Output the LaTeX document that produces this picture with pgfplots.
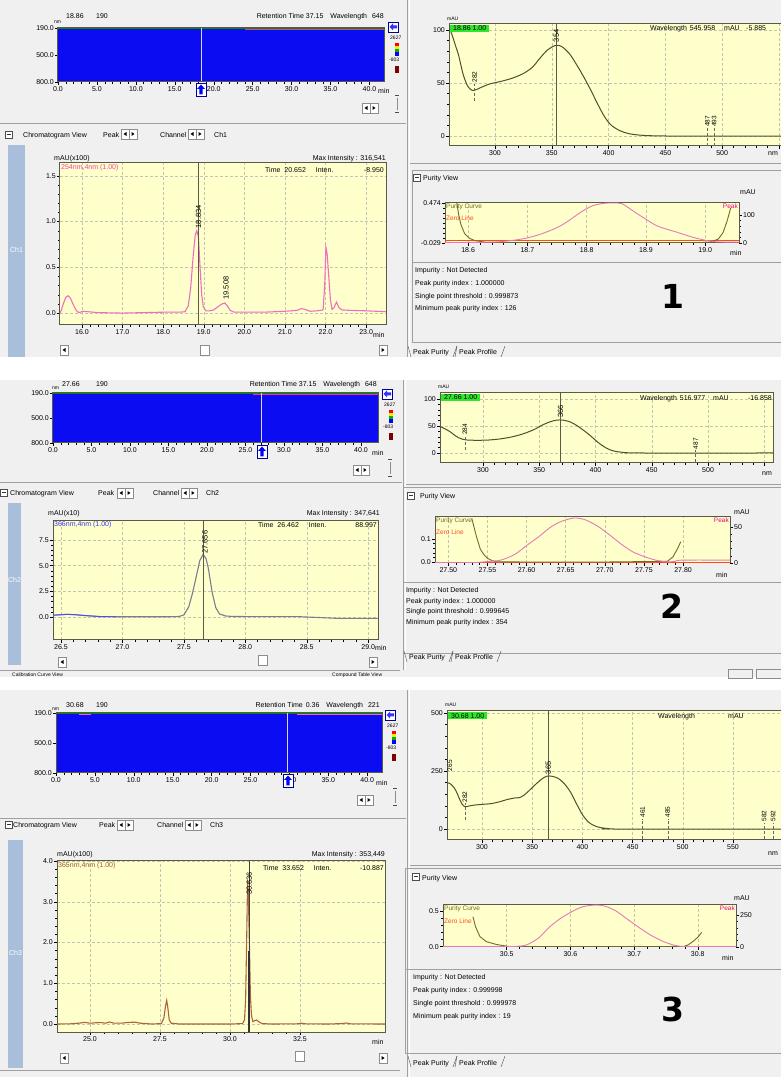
\documentclass[border=0pt]{standalone}
\usepackage{fontspec}
\setmainfont{Liberation Sans}
\newfontfamily\bigf{DejaVu Sans}
\usepackage{pgfplots}
\pgfplotsset{compat=1.18}

\definecolor{bgc}{HTML}{F0F0F0}
\definecolor{plotbg}{HTML}{FFFFCC}
\definecolor{frame}{HTML}{5A5A48}
\definecolor{gridc}{HTML}{C4C4B0}
\definecolor{cblue}{HTML}{0C0CF2}
\definecolor{ch1c}{HTML}{F06EC2}
\definecolor{ch2c}{HTML}{7C7C8C}
\definecolor{ch3c}{HTML}{A8643A}
\definecolor{specc}{HTML}{50502E}
\definecolor{purc}{HTML}{6E6E22}
\definecolor{zeroc}{HTML}{FF4A1E}
\definecolor{peakc}{HTML}{E678B8}
\definecolor{stripc}{HTML}{A8BEDA}
\definecolor{greenb}{HTML}{2EE62E}
\definecolor{btnc}{HTML}{8C8C8C}
\definecolor{sepc}{HTML}{A0A0A0}

\newcommand\ft{\fontsize{7}{8}\selectfont}
\newcommand\fts{\fontsize{5}{6}\selectfont}
\newcommand\ftl{\fontsize{7.5}{8}\selectfont}
\newcommand\ftp{\fontsize{6.5}{7}\selectfont}
\newcommand\ftbig{\bigf\bfseries\fontsize{33}{33}\selectfont}

\newcommand\tl[3]{\node[anchor=base west,inner sep=0pt,font=\ft] at (#1,{1077-(#2)}) {#3};}
\newcommand\tr[3]{\node[anchor=base east,inner sep=0pt,font=\ft] at (#1,{1077-(#2)}) {#3};}
\newcommand\tc[3]{\node[anchor=base,inner sep=0pt,font=\ft] at (#1,{1077-(#2)}) {#3};}
\newcommand\hl[4]{\draw[#1] (#2,{1077-(#4)}) -- (#3,{1077-(#4)});}
\newcommand\vl[4]{\draw[#1] (#2,{1077-(#3)}) -- (#2,{1077-(#4)});}
\newcommand\rect[5]{\draw[#1] (#2,{1077-(#3)}) rectangle (#4,{1077-(#5)});}
\newcommand\lbtn[2]{\draw[btnc,fill=white,line width=0.4pt] (#1,{1077-(#2)}) rectangle ({#1+8},{1077-(#2)-10});
  \fill ({#1+5.5},{1077-(#2)-3}) -- ({#1+5.5},{1077-(#2)-7}) -- ({#1+2.5},{1077-(#2)-5}) -- cycle;}
\newcommand\rbtn[2]{\draw[btnc,fill=white,line width=0.4pt] (#1,{1077-(#2)}) rectangle ({#1+8},{1077-(#2)-10});
  \fill ({#1+2.5},{1077-(#2)-3}) -- ({#1+2.5},{1077-(#2)-7}) -- ({#1+5.5},{1077-(#2)-5}) -- cycle;}
\newcommand\btns[2]{\lbtn{#1}{#2}\rbtn{#1+8}{#2}}
\newcommand\thumb[2]{\draw[btnc,fill=white,line width=0.4pt] (#1,{1077-(#2)}) rectangle ({#1+9},{1077-(#2)-10});}
\newcommand\vsb[2]{% small vertical scroll marks, x, y top
  \fill[black!70] (#1,{1077-(#2)-3}) rectangle ({#1+4},{1077-(#2)-4.2});
  \fill[black!70] (#1,{1077-(#2)-20}) rectangle ({#1+4},{1077-(#2)-21.2});
  \draw[btnc,line width=0.3pt] ({#1+2},{1077-(#2)-6}) -- ({#1+2},{1077-(#2)-18});}
\newcommand\icon[2]{\draw[black!70,fill=white,line width=0.4pt] (#1,{1077-(#2)}) rectangle ({#1+7},{1077-(#2)-7});
  \fill[black!80] ({#1+1.5},{1077-(#2)-3}) rectangle ({#1+5.5},{1077-(#2)-4.3});}
\newcommand\lgd[2]{%
 \draw[blue!60!black,fill=white,line width=0.5pt] (#1,{1077-(#2)}) rectangle ({#1+10},{1077-(#2)-10});
 \fill[blue!80] ({#1+1.5},{1077-(#2)-5}) -- ({#1+5},{1077-(#2)-1.5}) -- ({#1+5},{1077-(#2)-3.5}) -- ({#1+9},{1077-(#2)-3.5}) -- ({#1+9},{1077-(#2)-6.5}) -- ({#1+5},{1077-(#2)-6.5}) -- ({#1+5},{1077-(#2)-8.5}) -- cycle;
 \node[anchor=base west,inner sep=0pt,font=\fts] at ({#1+2},{1077-(#2)-18}) {2627};
 \fill[red] ({#1+7},{1077-(#2)-21}) rectangle ({#1+11},{1077-(#2)-24});
 \fill[yellow!90!orange] ({#1+7},{1077-(#2)-24}) rectangle ({#1+11},{1077-(#2)-27});
 \fill[green!70!black] ({#1+7},{1077-(#2)-27}) rectangle ({#1+11},{1077-(#2)-30});
 \fill[blue] ({#1+7},{1077-(#2)-30}) rectangle ({#1+11},{1077-(#2)-34});
 \node[anchor=base west,inner sep=0pt,font=\fts] at ({#1+1},{1077-(#2)-40}) {-803};
 \fill[red!50!black] ({#1+7},{1077-(#2)-44}) rectangle ({#1+11},{1077-(#2)-51});}
\newcommand\cur[2]{%
 \draw[blue!60!black,fill=white,line width=0.5pt] ({#1-5},{1077-(#2)}) rectangle ({#1+5},{1077-(#2)-13});
 \fill[blue] ({#1},{1077-(#2)-1.5}) -- ({#1+4},{1077-(#2)-6}) -- ({#1+1.7},{1077-(#2)-6}) -- ({#1+1.7},{1077-(#2)-11.5}) -- ({#1-1.7},{1077-(#2)-11.5}) -- ({#1-1.7},{1077-(#2)-6}) -- ({#1-4},{1077-(#2)-6}) -- cycle;}
\newcommand\tabs[2]{%
 \draw[black!70,line width=0.4pt] (#1,{1077-(#2)+9}) -- ({#1+3},{1077-(#2)-2});
 \node[anchor=base west,inner sep=0pt,font=\ft] at ({#1+5},{1077-(#2)}) {Peak Purity};
 \draw[black!70,line width=0.4pt] ({#1+45},{1077-(#2)-2}) -- ({#1+49},{1077-(#2)+9});
 \draw[black!70,line width=0.4pt] ({#1+49},{1077-(#2)+9}) -- ({#1+47},{1077-(#2)-2});
 \node[anchor=base west,inner sep=0pt,font=\ft] at ({#1+51},{1077-(#2)}) {Peak Profile};
 \draw[black!70,line width=0.4pt] ({#1+93},{1077-(#2)-2}) -- ({#1+97},{1077-(#2)+9});}

\tikzset{
 plab/.style={rotate=90, anchor=west, font=\ftp, inner sep=0.5pt},
 clab/.style={rotate=90, anchor=west, font=\ftl, inner sep=0.5pt},
}
\pgfplotsset{
 base/.style={scale only axis, anchor=south west,
   axis background/.style={fill=plotbg},
   axis line style={draw=frame, line width=1pt},
   tick style={black, line width=0.4pt},
   major tick length=3pt, minor tick length=1.6pt,
   tick align=outside, tick pos=left,
   tick label style={font=\ft, inner sep=1pt},
   grid=major, major grid style={densely dashed, gridc, line width=0.4pt}},
 cont/.style={base, axis on top, grid=none, xmin=0, ymin=190, ymax=800, y dir=reverse,
   xtick={0,5,...,40}, xticklabels={0.0,5.0,10.0,15.0,20.0,25.0,30.0,35.0,40.0},
   ytick={190,500,800}, yticklabels={190.0,500.0,800.0},
   minor x tick num=4, minor y tick num=4},
 spec/.style={base, minor x tick num=4, minor y tick num=4,
   xtick={300,350,400,450,500,550}, xticklabels={300,350,400,450,500,550}},
 axR/.style={scale only axis, anchor=south west, axis x line=none, axis y line*=right,
   axis line style={draw=frame, line width=1pt},
   tick style={black, line width=0.4pt},
   major tick length=3pt, minor tick length=1.6pt, tick align=outside,
   tick label style={font=\ft, inner sep=1pt}, minor y tick num=4},
}

\begin{document}
\begin{tikzpicture}[x=1pt,y=1pt]
\fill[white] (0,0) rectangle (781,1077);
\useasboundingbox (0,0) rectangle (781,1077);
\begin{scope}
\clip (0,0) rectangle (781,1077);
% panel backgrounds
\fill[bgc] (0,{1077-0}) rectangle (781,{1077-357});
\fill[bgc] (0,{1077-380}) rectangle (781,{1077-677});
\fill[bgc] (0,{1077-690}) rectangle (781,{1077-1077});

% ================= PANEL 1 =================
\vl{sepc,line width=0.8pt}{407}{0}{357}
\vl{white,line width=0.8pt}{409}{0}{357}
\hl{sepc,line width=0.8pt}{0}{406}{123}
\hl{sepc,line width=0.8pt}{410}{781}{163}

% contour header
\node[anchor=base west,inner sep=0pt,font=\fts] at (54,{1077-24}) {nm};
\tl{66}{19}{18.86}
\tl{96}{19}{190}
\tr{384}{19}{Retention Time 37.15\hspace{7pt}Wavelength\hspace{5pt}648}
\begin{axis}[cont, at={(58pt,995pt)}, width=327pt, height=54pt, xmax=42]
\addplot[fill=cblue, draw=none] coordinates {(0,190)(42,190)(42,800)(0,800)};
\addplot[green!55!black, line width=0.8pt] coordinates {(0,193)(42,193)};
\addplot[magenta!80, line width=1pt] coordinates {(24,203)(42,203)};
\addplot[white!70!gray, line width=1pt] coordinates {(18.4,190)(18.4,800)};
\end{axis}
\tl{378}{94}{min}
\lgd{388}{22}
\cur{201}{83}
\btns{362}{103}
\vsb{395}{92}

% chromatogram 1 header
\icon{5}{131}
\tl{23}{138}{Chromatogram View}
\tl{103}{138}{Peak}
\btns{121}{129}
\tl{160}{138}{Channel}
\btns{188}{129}
\tl{214}{138}{Ch1}
\fill[stripc] (8,{1077-145}) rectangle (25,{1077-357});
\node[white,font=\ft] at (16.5,{1077-250}) {Ch1};
\tl{54}{161}{mAU(x100)}
\tr{386}{161}{Max Intensity : 316,541}
\begin{axis}[base, at={(60pt,752pt)}, width=326pt, height=162pt,
  xmin=15.46, xmax=23.49, ymin=-0.13, ymax=1.64,
  xtick={16,17,...,23}, xticklabels={16.0,17.0,18.0,19.0,20.0,21.0,22.0,23.0},
  ytick={0,0.5,1,1.5}, yticklabels={0.0,0.5,1.0,1.5},
  minor x tick num=4, minor y tick num=4]
\addplot[ch1c, line width=1.1pt] coordinates {(15.46,0.0)(15.5,0.04)(15.54,0.1)(15.6,0.17)(15.66,0.19)(15.72,0.16)(15.79,0.09)(15.86,0.03)(15.92,0.005)(16.03,0.02)(16.15,0.015)(16.4,0.005)(17.0,0.0)(17.5,0.005)(18.0,0.01)(18.4,0.01)(18.54,0.015)(18.62,0.08)(18.68,0.28)(18.74,0.62)(18.79,0.85)(18.83,0.9)(18.87,0.83)(18.91,0.5)(18.95,0.2)(18.99,0.07)(19.05,0.025)(19.15,0.025)(19.25,0.035)(19.35,0.07)(19.45,0.1)(19.52,0.11)(19.58,0.08)(19.65,0.03)(19.75,0.01)(20.0,0.01)(20.5,0.01)(21.0,0.02)(21.3,0.03)(21.41,0.05)(21.5,0.04)(21.62,0.02)(21.8,0.025)(21.94,0.035)(21.98,0.3)(22.01,0.72)(22.04,0.65)(22.08,0.4)(22.12,0.15)(22.16,0.04)(22.21,0.06)(22.27,0.12)(22.33,0.06)(22.4,0.035)(22.6,0.03)(23.0,0.025)(23.49,0.015)};
\addplot[frame, line width=0.8pt] coordinates {(18.88,-0.13)(18.88,1.64)};
\node[clab] at (axis cs:18.875,0.92) {18.834};
\node[clab] at (axis cs:19.55,0.14) {19.508};
\node[anchor=north west,font=\ft,text=magenta!75,inner sep=1pt] at (rel axis cs:0,1) {254nm,4nm (1.00)};
\end{axis}
\tl{265}{173}{Time\hspace{4pt}20.652\hspace{10pt}Inten.}
\tr{384}{173}{-8.950}
\tl{373}{338}{min}
\lbtn{60}{345}
\rbtn{379}{345}
\thumb{200}{345}

% spectrum 1
\node[anchor=base west,inner sep=0pt,font=\fts] at (447,{1077-21}) {mAU};
\begin{axis}[spec, at={(449pt,931pt)}, width=341pt, height=122pt,
  xmin=259.5, xmax=559.7, ymin=-9.4, ymax=105.7,
  ytick={0,50,100}, yticklabels={0,50,100},
  xticklabels={300,350,400,450,500,{}}]
\addplot[specc, line width=1pt, smooth] coordinates {(259.5,102)(262,96)(265,86)(268,76)(272,58)(276,47)(280,43)(284,44)(288,46)(295,49)(305,51.5)(315,54.5)(325,59)(333,65)(340,74)(346,81)(352,85)(356,85.5)(360,83.5)(366,77)(372,67)(378,56)(384,44)(390,31)(396,19)(402,10.5)(410,5)(418,2.2)(428,0.8)(440,0.2)(460,0)(560,0)};
\addplot[frame, line width=1pt] coordinates {(354,-9.4)(354,105.7)};
\addplot[densely dashed, black!60, line width=0.4pt] coordinates {(282,33)(282,49)};
\addplot[densely dashed, black!60, line width=0.4pt] coordinates {(487,-9)(487,8)};
\addplot[densely dashed, black!60, line width=0.4pt] coordinates {(493,-9)(493,8)};
\node[plab] at (axis cs:282,50) {282};
\node[plab,font=\ftl] at (axis cs:354,88) {354};
\node[plab] at (axis cs:487,8) {487};
\node[plab] at (axis cs:493,8) {493};
\end{axis}
\tl{768}{156}{nm}
\node[fill=greenb,anchor=north west,inner xsep=3pt,inner ysep=1pt,font=\ft] at (450,{1077-24.5}) {18.86 1.00};
\tl{650}{31}{Wavelength\hspace{3pt}545.958}
\tl{724}{31}{mAU}
\tl{746}{31}{-5.885}

% purity 1
\rect{sepc,line width=0.6pt}{412}{170}{795}{342}
\icon{413}{174}
\tl{423}{181}{Purity View}
\tc{748}{195}{mAU}
\begin{axis}[base, at={(445pt,834pt)}, width=294pt, height=40pt,
  xmin=18.561, xmax=19.057, ymin=-0.029, ymax=0.474,
  xtick={18.6,18.7,18.8,18.9,19.0}, xticklabels={18.6,18.7,18.8,18.9,19.0},
  ytick={-0.029,0.474}, yticklabels={-0.029,0.474},
  minor x tick num=4, minor y tick num=7, grid=none, xmajorgrids=true]
\addplot[zeroc, line width=0.9pt] coordinates {(18.561,0)(19.057,0)};
\addplot[purc, line width=0.9pt] coordinates {(18.581,0.474)(18.584,0.33)(18.588,0.2)(18.594,0.09)(18.602,0.03)(18.612,0.0)(18.63,-0.02)(18.7,-0.025)(18.9,-0.025)(18.99,-0.025)(19.01,-0.015)(19.022,0.02)(19.03,0.1)(19.037,0.25)(19.043,0.41)};
\node[anchor=north west,font=\ftp,text=purc,inner sep=1pt] at (rel axis cs:0,1) {Purity Curve};
\node[anchor=north west,font=\ftp,text=zeroc,inner sep=1pt] at (rel axis cs:0,0.72) {Zero Line};
\end{axis}
\begin{axis}[axR, at={(445pt,834pt)}, width=294pt, height=40pt,
  xmin=18.561, xmax=19.057, ymin=0, ymax=143, ytick={0,100}, yticklabels={0,100}]
\addplot[peakc, line width=0.9pt, smooth] coordinates {(18.561,2)(18.6,2)(18.65,4)(18.69,14)(18.72,30)(18.75,55)(18.77,80)(18.79,110)(18.81,133)(18.83,142)(18.845,143)(18.86,140)(18.88,112)(18.9,85)(18.92,60)(18.95,40)(18.98,20)(19.0,10)(19.02,4)(19.057,3)};
\node[anchor=north east,font=\ftp,text=magenta,inner sep=1pt] at (rel axis cs:1,1) {Peak};
\end{axis}
\tl{730}{256}{min}
\hl{sepc,line width=0.6pt}{412}{795}{262}
\tl{415}{273}{Impurity : Not Detected}
\tl{415}{286}{Peak purity index : 1.000000}
\tl{415}{298.5}{Single point threshold : 0.999873}
\tl{415}{311}{Minimum peak purity index : 126}
\node[font=\ftbig,inner sep=0pt] at (672.5,{1077-296}) {1};
\tabs{408}{355}

% ================= PANEL 2 =================
\vl{sepc,line width=0.8pt}{403}{380}{670}
\vl{white,line width=0.8pt}{405}{380}{670}
\hl{sepc,line width=0.8pt}{0}{402}{482}
\hl{sepc,line width=0.8pt}{406}{781}{484}

\node[anchor=base west,inner sep=0pt,font=\fts] at (52,{1077-390}) {nm};
\tl{62}{387}{27.66}
\tl{96}{387}{190}
\tr{377}{387}{Retention Time 37.15\hspace{7pt}Wavelength\hspace{5pt}648}
\begin{axis}[cont, at={(53pt,634pt)}, width=325pt, height=50pt, xmax=42.2]
\addplot[fill=cblue, draw=none] coordinates {(0,190)(42.2,190)(42.2,800)(0,800)};
\addplot[green!55!black, line width=0.8pt] coordinates {(0,193)(42.2,193)};
\addplot[magenta!80, line width=1pt] coordinates {(26,203)(42.2,203)};
\addplot[white!70!gray, line width=1pt] coordinates {(27.1,190)(27.1,800)};
\end{axis}
\tl{372}{456}{min}
\lgd{382}{389}
\cur{262}{445}
\btns{353}{465}
\vsb{388}{456}

% chromatogram 2
\icon{0}{489}
\tl{10}{496}{Chromatogram View}
\tl{98}{496}{Peak}
\btns{117}{488}
\tl{153}{496}{Channel}
\btns{181}{488}
\tl{206}{496}{Ch2}
\fill[stripc] (8,{1077-503}) rectangle (21,{1077-665});
\node[white,font=\ft] at (14.5,{1077-580}) {Ch2};
\tl{48}{516}{mAU(x10)}
\tr{380}{516}{Max Intensity : 347,641}
\begin{axis}[base, at={(53pt,437pt)}, width=325pt, height=120pt,
  xmin=26.435, xmax=29.08, ymin=-2.24, ymax=9.45,
  xtick={26.5,27,27.5,28,28.5,29}, xticklabels={26.5,27.0,27.5,28.0,28.5,29.0},
  ytick={0,2.5,5,7.5}, yticklabels={0.0,2.5,5.0,7.5},
  minor x tick num=4, minor y tick num=4]
\addplot[ch2c, line width=1.1pt] coordinates {(26.435,0.18)(26.5,0.22)(26.55,0.26)(26.62,0.22)(26.71,0.13)(26.82,0.04)(27.0,0.02)(27.2,0.02)(27.4,0.03)(27.46,0.05)(27.5,0.2)(27.54,1.0)(27.57,2.3)(27.6,3.9)(27.63,5.5)(27.656,6.1)(27.68,5.7)(27.7,4.7)(27.73,2.4)(27.76,0.9)(27.79,0.3)(27.84,0.1)(27.9,0.05)(28.2,0.03)(28.44,0.03)(28.6,-0.05)(28.75,-0.13)(29.08,-0.13)};
\addplot[blue!70, line width=0.9pt] coordinates {(26.435,0.18)(26.5,0.22)(26.55,0.26)(26.62,0.22)(26.71,0.13)(26.82,0.04)(26.95,0.02)};
\addplot[frame, line width=0.8pt] coordinates {(27.66,-2.24)(27.66,9.45)};
\node[clab] at (axis cs:27.672,6.1) {27.656};
\node[anchor=north west,font=\ft,text=blue!80,inner sep=1pt] at (rel axis cs:0,1) {366nm,4nm (1.00)};
\end{axis}
\tl{258}{528}{Time\hspace{4pt}26.462\hspace{10pt}Inten.}
\tr{377}{528}{88.997}
\tl{375}{651}{min}
\lbtn{58}{657}
\rbtn{369}{657}
\thumb{258}{655}
\hl{sepc,line width=0.6pt}{0}{400}{670}
\node[anchor=base west,inner sep=0pt,font=\fts] at (12,{1077-677}) {Calibration Curve View};
\node[anchor=base west,inner sep=0pt,font=\fts] at (332,{1077-677}) {Compound Table View};

% spectrum 2
\node[anchor=base west,inner sep=0pt,font=\fts] at (438,{1077-389}) {mAU};
\begin{axis}[spec, at={(440pt,614pt)}, width=333pt, height=70pt,
  xmin=261.8, xmax=557.7, ymin=-18.5, ymax=111,
  ytick={0,50,100}, yticklabels={0,50,100},
  xticklabels={300,350,400,450,500,{}}]
\addplot[specc, line width=1pt, smooth] coordinates {(261.8,49)(266,45)(271,39)(276,31)(281,26)(286,24)(295,23.5)(305,24)(315,26)(325,29.5)(335,35)(345,43)(353,52)(360,58)(366,61)(372,60.5)(378,57)(384,50)(390,41)(396,31)(402,20)(408,11)(414,5)(420,2.2)(428,0.5)(440,0)(558,0)};
\addplot[frame, line width=1pt] coordinates {(369,-18.5)(369,111)};
\addplot[densely dashed, black!60, line width=0.4pt] coordinates {(284,5)(284,31)};
\addplot[densely dashed, black!60, line width=0.4pt] coordinates {(489,-16)(489,6)};
\node[plab] at (axis cs:284,32) {284};
\node[plab,font=\ftl] at (axis cs:369,64) {366};
\node[plab] at (axis cs:489,6) {487};
\end{axis}
\node[fill=greenb,anchor=north west,inner xsep=3pt,inner ysep=1pt,font=\ft] at (441,{1077-393.5}) {27.66 1.00};
\tl{640}{401}{Wavelength\hspace{3pt}516.977}
\tl{713}{401}{mAU}
\tr{772}{401}{-16.858}
\tl{762}{476}{nm}

% purity 2
\rect{sepc,line width=0.6pt}{403}{487}{795}{653}
\icon{407}{492}
\tl{420}{499}{Purity View}
\tc{742}{515}{mAU}
\begin{axis}[base, at={(435pt,514pt)}, width=295pt, height=46pt,
  xmin=27.483, xmax=27.86, ymin=-0.0043, ymax=0.1957,
  xtick={27.5,27.55,27.6,27.65,27.7,27.75,27.8}, xticklabels={27.50,27.55,27.60,27.65,27.70,27.75,27.80},
  ytick={0,0.1}, yticklabels={0.0,0.1},
  minor x tick num=4, minor y tick num=4, grid=none, xmajorgrids=true]
\addplot[zeroc, line width=0.9pt] coordinates {(27.483,0)(27.86,0)};
\addplot[purc, line width=0.9pt] coordinates {(27.53,0.19)(27.533,0.15)(27.536,0.11)(27.541,0.055)(27.546,0.03)(27.55,0.016)(27.556,0.006)(27.562,0.001)(27.6,0.0)(27.7,0.0)(27.78,0.003)(27.787,0.022)(27.793,0.058)(27.797,0.088)};
\node[anchor=north west,font=\ftp,text=purc,inner sep=1pt] at (rel axis cs:0,1) {Purity Curve};
\node[anchor=north west,font=\ftp,text=zeroc,inner sep=1pt] at (rel axis cs:0,0.74) {Zero Line};
\end{axis}
\begin{axis}[axR, at={(435pt,514pt)}, width=295pt, height=46pt,
  xmin=27.483, xmax=27.86, ymin=0, ymax=63.9, ytick={0,50}, yticklabels={0,50}]
\addplot[peakc, line width=0.9pt, smooth] coordinates {(27.483,0.5)(27.53,0.5)(27.55,2)(27.567,4)(27.585,12)(27.601,25)(27.615,36)(27.631,50)(27.645,58)(27.661,62.5)(27.675,60)(27.691,51)(27.705,40)(27.72,27)(27.735,16)(27.75,9)(27.765,4)(27.78,1.5)(27.79,2.5)(27.8,4)(27.86,4)};
\node[anchor=north east,font=\ftp,text=magenta,inner sep=1pt] at (rel axis cs:1,1) {Peak};
\end{axis}
\tl{716}{578}{min}
\hl{sepc,line width=0.6pt}{403}{795}{582}
\tl{406}{593}{Impurity : Not Detected}
\tl{406}{603.5}{Peak purity index : 1.000000}
\tl{406}{614}{Single point threshold : 0.999645}
\tl{406}{624.5}{Minimum peak purity index : 354}
\node[font=\ftbig,inner sep=0pt] at (672,{1077-606}) {2};
\tabs{404}{660}
\fill[white] (0,{1077-677}) rectangle (781,{1077-690});
\draw[btnc,fill=bgc,line width=0.4pt] (728,{1077-669}) rectangle (752,{1077-678});
\draw[btnc,fill=bgc,line width=0.4pt] (756,{1077-669}) rectangle (785,{1077-678});

% ================= PANEL 3 =================
\vl{sepc,line width=0.8pt}{407}{690}{1077}
\vl{white,line width=0.8pt}{409}{690}{1077}
\hl{sepc,line width=0.8pt}{0}{406}{818}
\hl{sepc,line width=0.8pt}{410}{781}{865}

\node[anchor=base west,inner sep=0pt,font=\fts] at (52,{1077-711}) {nm};
\tl{66}{708}{30.68}
\tl{96}{708}{190}
\tr{380}{708}{Retention Time\hspace{3pt}0.36\hspace{7pt}Wavelength\hspace{5pt}221}
\begin{axis}[cont, at={(56pt,304pt)}, width=326pt, height=60pt, xmax=41.9]
\addplot[fill=cblue, draw=none] coordinates {(0,190)(41.9,190)(41.9,800)(0,800)};
\addplot[green!55!black, line width=0.8pt] coordinates {(0,193)(41.9,193)};
\addplot[magenta!60, line width=1pt] coordinates {(31,203)(41.9,203)};
\addplot[magenta!60, line width=1pt] coordinates {(3,203)(4.5,203)};
\addplot[white!70!gray, line width=1pt] coordinates {(29.8,190)(29.8,800)};
\end{axis}
\tl{376}{786}{min}
\lgd{385}{710}
\cur{288}{774}
\btns{357}{795}
\vsb{393}{785}

% chromatogram 3
\icon{5}{821}
\tl{13}{828}{Chromatogram View}
\tl{99}{828}{Peak}
\btns{117}{820}
\tl{157}{828}{Channel}
\btns{185}{820}
\tl{210}{828}{Ch3}
\fill[stripc] (8,{1077-840}) rectangle (23,{1077-1068});
\node[white,font=\ft] at (15.5,{1077-953}) {Ch3};
\tl{57}{857}{mAU(x100)}
\tr{385}{857}{Max Intensity : 353,449}
\begin{axis}[base, at={(57pt,45pt)}, width=328pt, height=171pt,
  xmin=23.82, xmax=35.54, ymin=-0.196, ymax=4.0,
  xtick={25,27.5,30,32.5}, xticklabels={25.0,27.5,30.0,32.5},
  ytick={0,1,2,3,4}, yticklabels={0.0,1.0,2.0,3.0,4.0},
  minor x tick num=4, minor y tick num=4]
\addplot[ch3c, line width=1.1pt] coordinates {(23.82,0.0)(24.3,0.005)(24.6,0.02)(24.8,0.04)(25.0,0.02)(25.2,0.03)(25.4,0.035)(25.55,0.02)(25.7,0.05)(25.85,0.02)(26.1,0.02)(26.4,0.04)(26.6,0.045)(26.8,0.02)(27.2,0.0)(27.55,0.01)(27.64,0.15)(27.7,0.45)(27.74,0.58)(27.78,0.4)(27.83,0.1)(27.9,0.02)(28.2,0.0)(29.0,0.0)(30.0,0.0)(30.45,0.01)(30.52,0.1)(30.56,0.6)(30.6,2.2)(30.63,3.53)(30.66,3.1)(30.7,1.8)(30.73,0.7)(30.77,0.2)(30.82,0.06)(30.88,0.08)(30.95,0.1)(31.02,0.06)(31.15,0.01)(31.5,0.0)(32.4,0.005)(32.55,0.02)(32.7,0.005)(33.5,0.0)(34.0,0.01)(34.15,0.025)(34.3,0.005)(35.54,0.0)};
\addplot[black!75, line width=0.6pt] coordinates {(30.68,1.8)(30.68,4.0)};
\addplot[black!80, line width=1.6pt] coordinates {(30.68,-0.196)(30.68,1.8)};
\node[clab] at (axis cs:30.69,3.15) {30.636};
\node[anchor=north west,font=\ft,text=ch3c!90!black,inner sep=1pt] at (rel axis cs:0,1) {365nm,4nm (1.00)};
\end{axis}
\tl{263}{871}{Time\hspace{4pt}33.652\hspace{10pt}Inten.}
\tr{384}{871}{-10.887}
\tl{372}{1045}{min}
\lbtn{60}{1053}
\rbtn{379}{1053}
\thumb{295}{1051}
\hl{sepc,line width=0.6pt}{0}{400}{1070}

% spectrum 3
\node[anchor=base west,inner sep=0pt,font=\fts] at (445,{1077-707}) {mAU};
\begin{axis}[spec, at={(447pt,237pt)}, width=343pt, height=129pt,
  xmin=265.1, xmax=606.8, ymin=-47.4, ymax=508.6,
  ytick={0,250,500}, yticklabels={0,250,500}]
\addplot[specc, line width=1pt, smooth] coordinates {(265.1,200)(268,196)(271,184)(274,165)(277,135)(280,108)(283,96)(287,99)(292,103)(300,106)(310,110)(318,118)(325,127)(333,134)(338,136)(343,150)(348,170)(354,195)(360,217)(365,228)(370,227)(376,218)(382,195)(388,160)(394,110)(400,62)(406,30)(412,14)(418,6)(425,2)(432,0)(607,0)};
\addplot[frame, line width=1pt] coordinates {(366,-47.4)(366,508.6)};
\addplot[densely dashed, black!60, line width=0.4pt] coordinates {(283,40)(283,110)};
\addplot[densely dashed, black!60, line width=0.4pt] coordinates {(460,-45)(460,45)};
\addplot[densely dashed, black!60, line width=0.4pt] coordinates {(485,-45)(485,45)};
\addplot[densely dashed, black!60, line width=0.4pt] coordinates {(581,-45)(581,28)};
\addplot[densely dashed, black!60, line width=0.4pt] coordinates {(590,-45)(590,28)};
\node[plab] at (axis cs:268,246) {265};
\node[plab] at (axis cs:283,112) {282};
\node[plab,font=\ftl] at (axis cs:366,234) {365};
\node[plab] at (axis cs:460,47) {461};
\node[plab] at (axis cs:485,47) {485};
\node[plab] at (axis cs:581,30) {582};
\node[plab] at (axis cs:590,30) {592};
\end{axis}
\node[fill=greenb,anchor=north west,inner xsep=3pt,inner ysep=1pt,font=\ft] at (448,{1077-712}) {30.68 1.00};
\tl{658}{719}{Wavelength}
\tl{728}{719}{mAU}
\tl{768}{856}{nm}

% purity 3
\rect{sepc,line width=0.6pt}{405}{868}{795}{1053}
\icon{412}{873}
\tl{422}{881}{Purity View}
\tc{742}{901}{mAU}
\begin{axis}[base, at={(443pt,130pt)}, width=293pt, height=42pt,
  xmin=30.40, xmax=30.86, ymin=-0.005, ymax=0.583,
  xtick={30.5,30.6,30.7,30.8}, xticklabels={30.5,30.6,30.7,30.8},
  ytick={0,0.5}, yticklabels={0.0,0.5},
  minor x tick num=4, minor y tick num=4, grid=none, xmajorgrids=true]
\addplot[zeroc, line width=0.9pt] coordinates {(30.40,0)(30.86,0)};
\addplot[purc, line width=0.9pt] coordinates {(30.447,0.42)(30.451,0.28)(30.458,0.14)(30.468,0.07)(30.484,0.03)(30.505,0.0)(30.6,0.0)(30.777,0.0)(30.785,0.025)(30.792,0.07)(30.8,0.13)(30.806,0.2)};
\node[anchor=north west,font=\ftp,text=purc,inner sep=1pt] at (rel axis cs:0,1) {Purity Curve};
\node[anchor=north west,font=\ftp,text=zeroc,inner sep=1pt] at (rel axis cs:0,0.71) {Zero Line};
\end{axis}
\begin{axis}[axR, at={(443pt,130pt)}, width=293pt, height=42pt,
  xmin=30.40, xmax=30.86, ymin=0, ymax=328, ytick={0,250}, yticklabels={0,250}]
\addplot[peakc, line width=0.9pt, smooth] coordinates {(30.40,3)(30.5,3)(30.515,5)(30.531,16)(30.55,70)(30.567,155)(30.585,225)(30.604,280)(30.62,315)(30.64,328)(30.655,318)(30.672,280)(30.69,215)(30.709,148)(30.727,90)(30.745,45)(30.76,18)(30.772,6)(30.79,3)(30.86,3)};
\node[anchor=north east,font=\ftp,text=magenta,inner sep=1pt] at (rel axis cs:1,1) {Peak};
\end{axis}
\tl{722}{961}{min}
\hl{sepc,line width=0.6pt}{405}{795}{969}
\tl{413}{980}{Impurity : Not Detected}
\tl{413}{993}{Peak purity index : 0.999998}
\tl{413}{1006}{Single point threshold : 0.999978}
\tl{413}{1019}{Minimum peak purity index : 19}
\node[font=\ftbig,inner sep=0pt] at (673,{1077-1009.5}) {3};
\tabs{408}{1065}
\end{scope}
\end{tikzpicture}
\end{document}
